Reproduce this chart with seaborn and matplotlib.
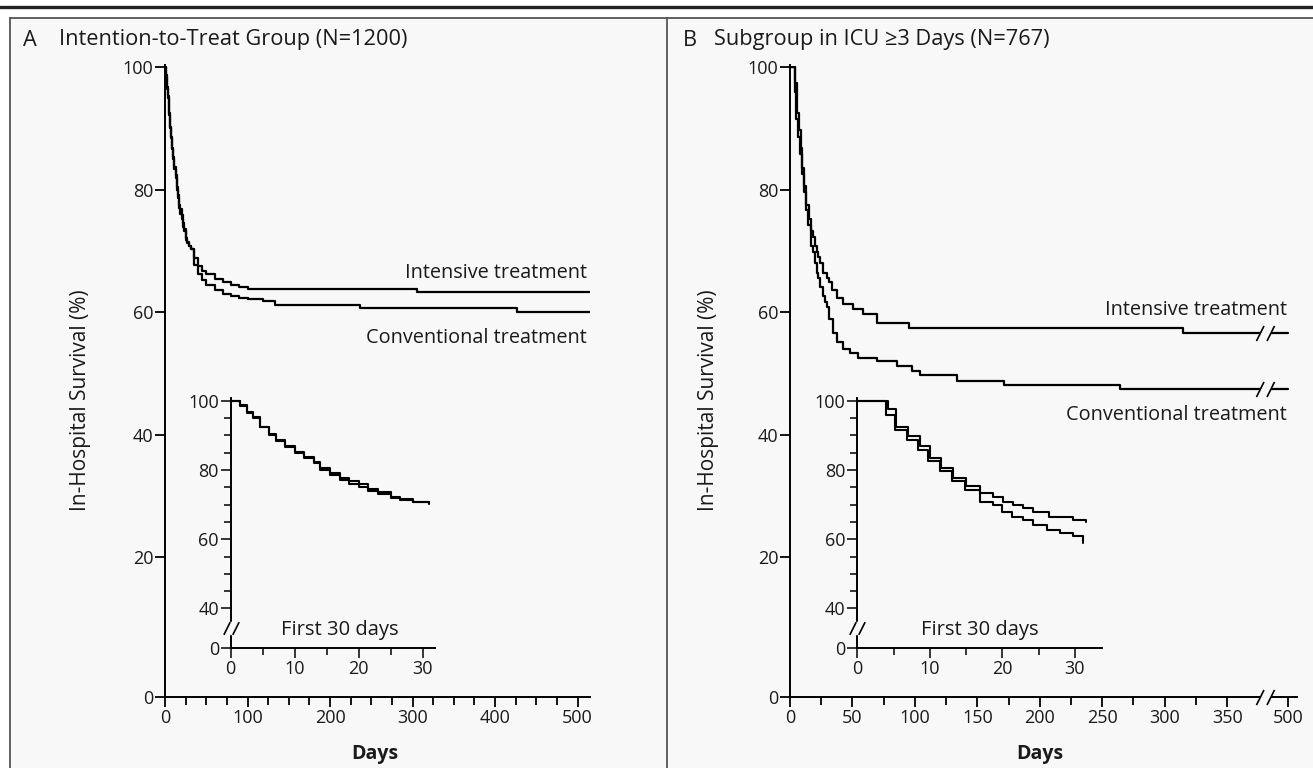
import numpy as np
import pandas as pd
import matplotlib
matplotlib.use('Agg')
import matplotlib.pyplot as plt
from matplotlib.path import Path
from matplotlib.patches import Rectangle
from matplotlib.lines import Line2D
import seaborn as sns

# ---------------- data ----------------
a_int_days = [0, 1.5, 2.5, 3.5, 4.5, 6, 7, 8.5, 10, 11.5, 13, 14, 15.5, 17, 18.5, 20, 21.5, 23, 25, 26.5,
              28.5, 31, 35, 40, 45, 50, 60, 70, 80, 90, 100, 305, 515]
a_int_surv = [100, 98.8, 96.8, 95.4, 92.5, 90.1, 88.7, 86.7, 85.3, 83.4, 82.4, 80.5, 79.2, 77.6, 76.8, 75.9,
              74.6, 73.6, 72.2, 71.5, 70.9, 70.3, 68.8, 67.6, 66.8, 66.2, 65.4, 64.9, 64.5, 64.1, 63.8, 63.3, 63.3]
a_con_days = [0, 1.5, 2.5, 3.5, 4.5, 6, 7, 8.5, 10, 11.5, 13, 14, 15.5, 17, 18.5, 20, 21.5, 23, 25, 26.5,
              28.5, 31, 35, 40, 45, 50, 60, 70, 80, 90, 100, 119, 133, 236, 426, 515]
a_con_surv = [100, 98.5, 96.5, 95.0, 92.3, 90.3, 88.4, 86.9, 85.0, 83.7, 82.0, 80.0, 78.7, 77.0, 76.0, 75.2,
              74.0, 73.2, 71.8, 71.3, 70.8, 70.4, 67.8, 66.2, 65.2, 64.5, 63.6, 63.0, 62.6, 62.3, 62.1, 61.8,
              61.2, 60.7, 60.0, 60.0]

b_int_days = [0, 4.3, 5.4, 7, 8.6, 10, 11.6, 13.2, 15, 16.9, 18.7, 20.1, 21.5, 22.8, 24.2, 26.5, 29.7, 31.5,
              33.4, 37.4, 42.7, 50.7, 58.7, 69.5, 94.9, 315, 500]
b_int_surv = [100, 97.5, 92.5, 89.8, 86.8, 83.5, 80.6, 77.6, 75.3, 73.3, 72.3, 70.9, 69.9, 69.0, 68.0, 66.5,
              65.6, 65.0, 63.7, 62.4, 61.3, 60.5, 59.7, 58.3, 57.5, 56.7, 56.7]
b_con_days = [0, 4, 5.2, 6.8, 8.4, 9.8, 11.4, 13, 14.8, 16.9, 18.7, 20, 21.3, 22.8, 24.2, 26.1, 27.9, 29.7,
              31.1, 34.2, 37.4, 42.7, 48, 54.8, 69.5, 85.5, 97.5, 104, 133.5, 171, 264, 500]
b_con_surv = [100, 96, 91.5, 88.6, 85.8, 82.6, 79.6, 76.7, 74.2, 70.9, 69.9, 68.0, 66.5, 65.6, 64.2, 62.7,
              61.7, 60.8, 58.9, 56.7, 55.1, 54.0, 53.4, 52.6, 52.0, 51.2, 50.4, 49.8, 48.8, 48.1, 47.5, 47.5]

groups = ["Intensive", "Conventional"]
a_title = "Intention-to-Treat Group (N=1200)"
b_title = "Subgroup in ICU \u22653 Days (N=767)"
a_xticks = [0, 100, 200, 300, 400, 500]
b_xticks = [0, 50, 100, 150, 200, 250, 300, 350, 500]
main_yticks = ["0", "20", "40", "60", "80", "100"]
inset_yticks = ["0", "40", "60", "80", "100"]
inset_xticks = [0, 10, 20, 30]


def frame(days_i, surv_i, days_c, surv_c):
    return pd.concat([
        pd.DataFrame({"day": days_i, "surv": surv_i, "group": groups[0]}),
        pd.DataFrame({"day": days_c, "surv": surv_c, "group": groups[1]}),
    ], ignore_index=True)


dfA = frame(a_int_days, a_int_surv, a_con_days, a_con_surv)
dfB = frame(b_int_days, b_int_surv, b_con_days, b_con_surv)

# ---------------- style ----------------
W, H = 1313, 768
BG = '#f8f8f8'
TXT = '#1a1a1a'
sns.set_style('ticks')
plt.rcParams['font.family'] = ['Open Sans', 'DejaVu Sans']
plt.rcParams['axes.linewidth'] = 1.4
plt.rcParams['axes.edgecolor'] = 'black'
plt.rcParams['text.color'] = TXT
plt.rcParams['axes.labelcolor'] = TXT
plt.rcParams['xtick.labelcolor'] = TXT
plt.rcParams['ytick.labelcolor'] = TXT

fig = plt.figure(figsize=(W / 100, H / 100), dpi=100, facecolor='white')
fig.patches.append(Rectangle((10 / W, 0), (W - 10) / W, (H - 18) / H, transform=fig.transFigure,
                             facecolor=BG, edgecolor='none', zorder=-10))
for (x0, y0, x1, y1, lw, c) in [(0, 7, W, 7, 2.4, '#222222'), (10, 18, W, 18, 1.3, '#555555'),
                                (10, 18, 10, H, 1.3, '#555555'), (667, 18, 667, H, 1.3, '#555555')]:
    fig.add_artist(Line2D([x0 / W, x1 / W], [1 - y0 / H, 1 - y1 / H], transform=fig.transFigure,
                          color=c, linewidth=lw))


def rect(l, t, r, b):
    return [l / W, 1 - b / H, (r - l) / W, (b - t) / H]


slash = Path([(-0.9, -0.75), (-0.15, 0.75), (0.15, -0.75), (0.9, 0.75)],
             [Path.MOVETO, Path.LINETO, Path.MOVETO, Path.LINETO])
gap = Path([(-0.9, -0.75), (-0.15, 0.75), (0.9, 0.75), (0.15, -0.75), (-0.9, -0.75)],
           [Path.MOVETO, Path.LINETO, Path.LINETO, Path.LINETO, Path.CLOSEPOLY])


def brk(ax, x, y, size=13):
    ax.plot([x], [y], marker=gap, markersize=size, markerfacecolor=BG, markeredgecolor=BG,
            markeredgewidth=0.5, linestyle='none', zorder=5, clip_on=False)
    ax.plot([x], [y], marker=slash, markersize=size, markeredgecolor='black', markeredgewidth=1.2,
            linestyle='none', zorder=6, clip_on=False)


YBOT = -2.8
TICKFONT = 13
LABFONT = 14.3
TITLEFONT = 15.7


def style_main(ax):
    ax.set_facecolor('none')
    sns.despine(ax=ax)
    ax.set_ylim(YBOT, 100.3)
    ax.set_yticks([YBOT, 20, 40, 60, 80, 100])
    ax.set_yticklabels(main_yticks)
    ax.tick_params(axis='both', which='major', length=7, width=1.3, labelsize=TICKFONT, pad=1.5, color='black')
    ax.tick_params(axis='both', which='minor', length=6, width=1.3, color='black')
    ax.set_ylabel("In-Hospital Survival (%)", fontsize=15)
    ax.set_xlabel("Days", fontsize=14, fontweight='bold')


def plot_curves(ax, df, lw=1.6):
    sns.lineplot(data=df, x='day', y='surv', hue='group', palette=['black', 'black'], estimator=None,
                 drawstyle='steps-post', linewidth=lw, legend=False, ax=ax)


def style_inset(ax, xmax, text_x):
    ax.set_facecolor('none')
    sns.despine(ax=ax)
    ax.set_xlim(0, xmax)
    ax.set_ylim(28.5, 100.8)
    ax.set_yticks([28.5, 40, 60, 80, 100])
    ax.set_yticklabels(inset_yticks)
    ax.set_yticks([45, 50, 55, 65, 70, 75, 85, 90, 95], minor=True)
    ax.set_xticks(inset_xticks)
    ax.set_xticks([5, 15, 25], minor=True)
    ax.tick_params(axis='both', which='major', length=7, width=1.3, labelsize=TICKFONT, pad=1.5)
    ax.tick_params(axis='both', which='minor', length=5, width=1.3)
    ax.set_xlabel("")
    ax.set_ylabel("")
    ax.text(text_x, 0.075, "First 30 days", transform=ax.transAxes, ha='center', va='center', fontsize=14.5)
    brk(ax, 0, 34.3, size=11)


# ---------------- panel A ----------------
axA = fig.add_axes(rect(165, 65.5, 590, 697))
plot_curves(axA, dfA)
style_main(axA)
axA.set_xlim(0, 515)
axA.set_xticks(a_xticks)
axA.set_xticks([x for x in range(25, 515, 25) if x % 100], minor=True)
axA.yaxis.set_label_coords(-0.174, 0.470)
axA.xaxis.set_label_coords(0.494, -0.074)
axA.text(0.993, 0.671, "Intensive treatment", transform=axA.transAxes, ha='right', va='center', fontsize=LABFONT)
axA.text(0.993, 0.5685, "Conventional treatment", transform=axA.transAxes, ha='right', va='center',
         fontsize=LABFONT)

fig.text(23 / W, 1 - 40 / H, "A", fontsize=TITLEFONT, va='center', ha='left')
fig.text(59 / W, 1 - 40 / H, a_title, fontsize=TITLEFONT, va='center', ha='left')

insA = fig.add_axes(rect(230.7, 398, 435, 648.3))
plot_curves(insA, dfA[dfA['day'] <= 31.5], lw=1.5)
style_inset(insA, 31.9, 0.535)

# ---------------- panel B ----------------
def fwd(x):
    x = np.asarray(x, dtype=float)
    return np.where(x <= 375, x, 375 + (x - 375) * 0.192)


def inv(y):
    y = np.asarray(y, dtype=float)
    return np.where(y <= 375, y, 375 + (y - 375) / 0.192)


axB = fig.add_axes(rect(790, 65.5, 1297, 697))
plot_curves(axB, dfB)
style_main(axB)
axB.set_xscale('function', functions=(fwd, inv))
axB.set_xlim(0, 536)
axB.set_xticks(b_xticks)
axB.set_xticklabels([str(v) for v in b_xticks])
axB.set_xticks(list(range(25, 350, 50)), minor=True)
axB.yaxis.set_label_coords(-0.140, 0.470)
axB.xaxis.set_label_coords(0.493, -0.074)
axB.text(0.98, 0.613, "Intensive treatment", transform=axB.transAxes, ha='right', va='center', fontsize=LABFONT)
axB.text(0.98, 0.4466, "Conventional treatment", transform=axB.transAxes, ha='right', va='center',
         fontsize=LABFONT)
brk(axB, 404, b_int_surv[-1])
brk(axB, 404, b_con_surv[-1])
brk(axB, 404, YBOT)

fig.text(683 / W, 1 - 40 / H, "B", fontsize=TITLEFONT, va='center', ha='left')
fig.text(714 / W, 1 - 40 / H, b_title, fontsize=TITLEFONT, va='center', ha='left')

insB = fig.add_axes(rect(857.3, 398, 1101.7, 648.3))
plot_curves(insB, dfB[dfB['day'] <= 31.7], lw=1.5)
style_inset(insB, 33.7, 0.50)

fig.savefig('out.png', dpi=100, facecolor=fig.get_facecolor())
